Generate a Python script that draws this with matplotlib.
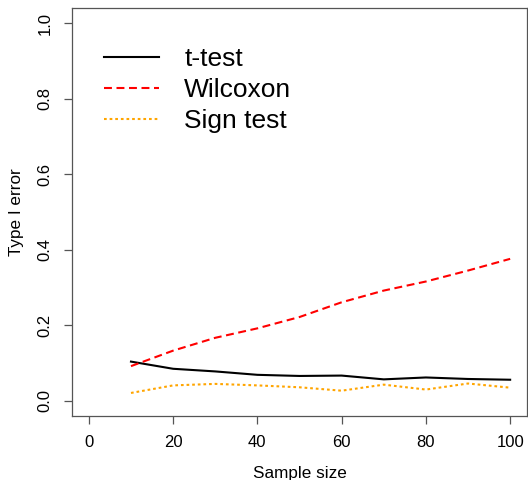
import matplotlib
matplotlib.use("Agg")
import matplotlib.pyplot as plt

plt.rcParams['font.family'] = ['Liberation Sans', 'DejaVu Sans']

# sample sizes and simulated type I error rates
n = [10, 20, 30, 40, 50, 60, 70, 80, 90, 100]
t_test = [0.104, 0.085, 0.078, 0.069, 0.066, 0.067, 0.057, 0.062, 0.058, 0.056]
wilcoxon = [0.092, 0.133, 0.167, 0.192, 0.222, 0.261, 0.292, 0.316, 0.345, 0.376]
sign_test = [0.021, 0.041, 0.045, 0.041, 0.036, 0.027, 0.043, 0.030, 0.046, 0.035]

fig = plt.figure(figsize=(5.28, 4.8), dpi=100)
# axes box in pixels: x 72..527, y 8..416 (from top)
ax = fig.add_axes([72 / 528, 1 - 416 / 480, 455 / 528, 408 / 480])

ax.plot(n, t_test, color='black', lw=1.5, label='t-test')
ax.plot(n, wilcoxon, color='#ff0000', lw=1.5, dashes=(3.8, 2.2), label='Wilcoxon')
ax.plot(n, sign_test, color='#ffa500', lw=1.5, dashes=(1.3, 1.4), label='Sign test')

ax.set_xlim(-4, 104)
ax.set_ylim(-0.04, 1.04)
ax.set_xticks([0, 20, 40, 60, 80, 100])
ax.set_yticks([0.0, 0.2, 0.4, 0.6, 0.8, 1.0])
ax.set_yticklabels(['0.0', '0.2', '0.4', '0.6', '0.8', '1.0'], rotation=90, va='center')

for s in ax.spines.values():
    s.set_color('#555555')
    s.set_linewidth(0.9)
ax.tick_params(direction='out', length=6, width=0.9, color='#555555',
               labelsize=12, pad=8)

ax.set_xlabel('Sample size', fontsize=12.3, labelpad=11)
ax.set_ylabel('Type I error', fontsize=12.3, labelpad=10)

ax.legend(loc='upper left', bbox_to_anchor=(0.070, 0.905), frameon=False,
          fontsize=19, handlelength=2.1, handletextpad=0.95, labelspacing=0.27,
          borderpad=0, borderaxespad=0)

fig.savefig('out.png', dpi=100)
